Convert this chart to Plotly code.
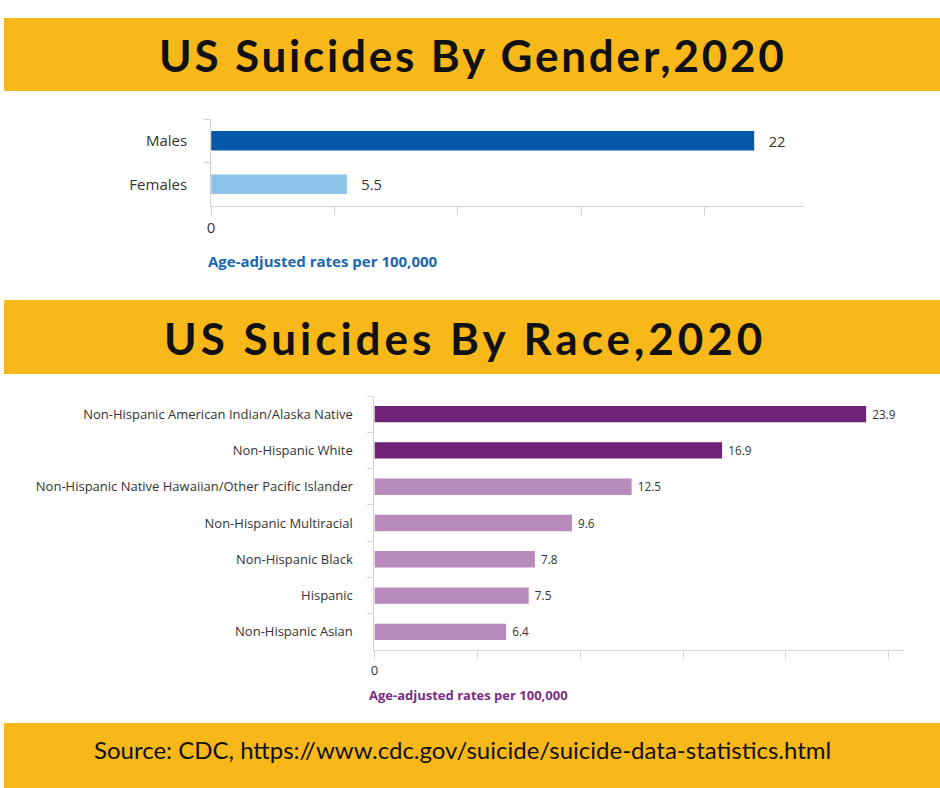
import plotly.graph_objects as go

# ---- data ----
gender_labels = ["Males", "Females"]
gender_values = [22, 5.5]
gender_colors = ["#0559A8", "#8EC4E9"]

race_labels = [
    "Non-Hispanic American Indian/Alaska Native",
    "Non-Hispanic White",
    "Non-Hispanic Native Hawaiian/Other Pacific Islander",
    "Non-Hispanic Multiracial",
    "Non-Hispanic Black",
    "Hispanic",
    "Non-Hispanic Asian",
]
race_values = [23.9, 16.9, 12.5, 9.6, 7.8, 7.5, 6.4]
race_colors = ["#6F2278", "#6F2278", "#B98BBC", "#B98BBC", "#B98BBC", "#B98BBC", "#B98BBC"]

tick_vals = [0, 5, 10, 15, 20, 25]
tick_text = ["0", "", "", "", "", ""]

title1 = "US Suicides By Gender,2020"
title2 = "US Suicides By Race,2020"
source = "Source: CDC, https://www.cdc.gov/suicide/suicide-data-statistics.html"
axis_note = "Age-adjusted rates per 100,000"

W, H = 940, 788
BANNER = "#F8B819"
LINE = "#D3D3D3"
NB = "\u00a0"

def px(x):
    return x / W

def py(y):
    return 1 - y / H

fig = go.Figure()

fig.add_trace(go.Bar(
    x=gender_values, y=gender_labels, orientation="h",
    marker=dict(color=gender_colors, line=dict(width=0)),
    width=0.45,
    text=[NB * 3 + f"{v:g}" for v in gender_values], textposition="outside",
    textfont=dict(family="Open Sans", size=15, color="#333333"),
    cliponaxis=False, xaxis="x", yaxis="y", showlegend=False,
))

fig.add_trace(go.Bar(
    x=race_values, y=race_labels, orientation="h",
    marker=dict(color=race_colors, line=dict(width=0)),
    width=0.45,
    text=[NB + f"{v:g}" for v in race_values], textposition="outside",
    textfont=dict(family="Open Sans", size=13, color="#333333"),
    cliponaxis=False, xaxis="x2", yaxis="y2", showlegend=False,
))

common_x = dict(
    showgrid=False, zeroline=False, showline=True, linecolor=LINE, linewidth=1,
    ticks="outside", ticklen=8, tickcolor=LINE, tickvals=tick_vals, ticktext=tick_text,
)
common_y = dict(
    showgrid=False, zeroline=False, showline=True, linecolor=LINE, linewidth=1,
    ticks="outside", ticklen=6, tickcolor=LINE, tickson="boundaries",
    autorange="reversed", type="category",
)

fig.update_layout(
    width=W, height=H,
    margin=dict(l=0, r=0, t=0, b=0),
    paper_bgcolor="white", plot_bgcolor="white",
    xaxis=dict(domain=[px(208), px(803)], range=[0, 24], anchor="y",
               tickfont=dict(family="Open Sans", size=15, color="#333333"), **common_x),
    yaxis=dict(domain=[py(206), py(119)], anchor="x",
               tickfont=dict(family="Open Sans", size=15, color="#333333"), ticklabelstandoff=20, **common_y),
    xaxis2=dict(domain=[px(372), px(903)], range=[0, 25.7], anchor="y2",
                tickfont=dict(family="Open Sans", size=13, color="#333333"), **common_x),
    yaxis2=dict(domain=[py(650), py(396)], anchor="x2",
                tickfont=dict(family="Open Sans", size=13, color="#333333"), ticklabelstandoff=18, **common_y),
    shapes=[
        dict(type="rect", xref="paper", yref="paper", x0=0, x1=1, y0=py(91), y1=py(18),
             fillcolor=BANNER, line=dict(width=0), layer="below"),
        dict(type="rect", xref="paper", yref="paper", x0=0, x1=1, y0=py(374), y1=py(300),
             fillcolor=BANNER, line=dict(width=0), layer="below"),
        dict(type="rect", xref="paper", yref="paper", x0=0, x1=1, y0=0, y1=py(723),
             fillcolor=BANNER, line=dict(width=0), layer="below"),
    ],
    annotations=[
        dict(text=f'<span style="letter-spacing:2.8px">{title1}</span>', xref="paper", yref="paper",
             x=px(471), y=py(55), xanchor="center", yanchor="middle", showarrow=False,
             font=dict(family="Lato", size=44, color="#111111", weight="bold")),
        dict(text=f'<span style="letter-spacing:4px">{title2}</span>', xref="paper", yref="paper",
             x=px(463), y=py(338), xanchor="center", yanchor="middle", showarrow=False,
             font=dict(family="Lato", size=44, color="#111111", weight="bold")),
        dict(text=source, xref="paper", yref="paper",
             x=px(460), y=py(749), xanchor="center", yanchor="middle", showarrow=False,
             font=dict(family="Lato", size=24, color="#111111")),
        dict(text=f"<b>{axis_note}</b>", xref="paper", yref="paper",
             x=px(203), y=py(261), xanchor="left", yanchor="middle", showarrow=False,
             font=dict(family="Open Sans", size=15, color="#1B67B1")),
        dict(text=f"<b>{axis_note}</b>", xref="paper", yref="paper",
             x=px(365), y=py(695), xanchor="left", yanchor="middle", showarrow=False,
             font=dict(family="Open Sans", size=13, color="#7B2D86")),
    ],
)

fig.write_html(
    "out.html",
    config={"displayModeBar": False},
    post_script=(
        "document.documentElement.style.margin='0';"
        "document.documentElement.style.padding='0';"
        "document.body.style.margin='0';"
        "document.body.style.padding='0';"
        "document.body.style.overflow='hidden';"
    ),
)
